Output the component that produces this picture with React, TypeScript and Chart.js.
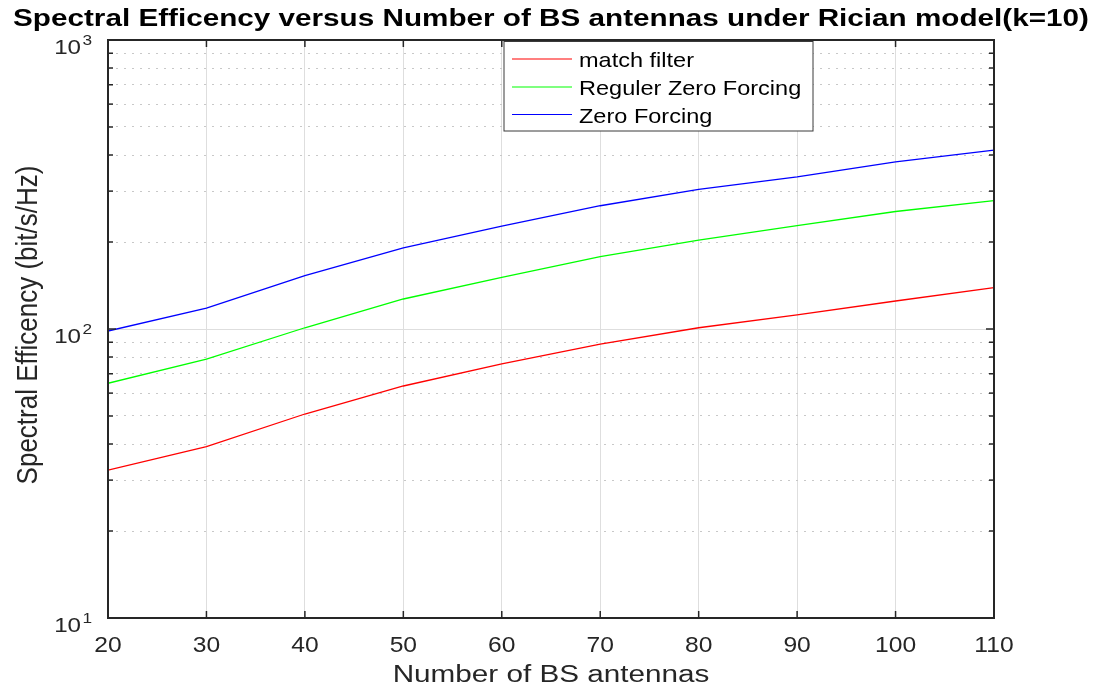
import React, { useEffect, useRef } from "react";
import Chart from "chart.js/auto";

// ---- data ----
const ANTENNAS = [20, 30, 40, 50, 60, 70, 80, 90, 100, 110];
const MATCH_FILTER = [32.5, 39.2, 50.8, 63.5, 75.7, 88.7, 101, 112, 125, 139];
const REGULER_ZF = [64.9, 78.7, 101, 127, 151, 178, 203, 228, 255, 278];
const ZERO_FORCING = [98.4, 118, 153, 191, 227, 267, 304, 336, 379, 416];

const SERIES_LABELS = ["match filter", "Reguler Zero Forcing", "Zero Forcing"];
const SERIES_COLORS = ["#ff0000", "#00ff00", "#0000ff"];

const X_TICKS = [20, 30, 40, 50, 60, 70, 80, 90, 100, 110];
const Y_GRID = [10, 20, 30, 40, 50, 60, 70, 80, 90, 100, 200, 300, 400, 500, 600, 700, 800, 900, 1000];
const Y_DECADES = [10, 100, 1000];
const Y_EXPONENTS = ["1", "2", "3"];

const TITLE = "Spectral Efficency versus Number of BS antennas under Rician model(k=10)";
const X_LABEL = "Number of BS antennas";
const Y_LABEL = "Spectral Efficency (bit/s/Hz)";

const FONT = '"Liberation Sans", Arial, sans-serif';
const INK = "#262626";

function drawText(
  ctx: CanvasRenderingContext2D,
  s: string,
  x: number,
  y: number,
  font: string,
  sx: number,
  align: CanvasTextAlign,
  color: string
) {
  ctx.save();
  ctx.translate(x, y);
  ctx.scale(sx, 1);
  ctx.font = font;
  ctx.textAlign = align;
  ctx.textBaseline = "alphabetic";
  ctx.fillStyle = color;
  ctx.fillText(s, 0, 0);
  ctx.restore();
}

const isDecade = (v: number) => Y_DECADES.indexOf(v) >= 0;

const framePlugin = {
  id: "matlabFrame",
  afterDraw(chart: any) {
    const { ctx, chartArea: a, scales } = chart;
    const xs = scales.x;
    const ys = scales.y;
    ctx.save();
    const seg = (x1: number, y1: number, x2: number, y2: number) => {
      ctx.beginPath();
      ctx.moveTo(x1, y1);
      ctx.lineTo(x2, y2);
      ctx.stroke();
    };
    // inward tick marks
    ctx.strokeStyle = INK;
    ctx.lineWidth = 1.5;
    X_TICKS.forEach((v) => {
      const px = xs.getPixelForValue(v);
      seg(px, a.bottom, px, a.bottom - 7);
      seg(px, a.top, px, a.top + 7);
    });
    Y_GRID.forEach((v) => {
      const py = ys.getPixelForValue(v);
      const len = isDecade(v) ? 8 : 5;
      seg(a.left, py, a.left + len, py);
      seg(a.right, py, a.right - len, py);
    });
    // box
    ctx.lineWidth = 2;
    ctx.strokeRect(a.left, a.top, a.right - a.left, a.bottom - a.top);

    // tick labels
    X_TICKS.forEach((v) => {
      const px = xs.getPixelForValue(v);
      drawText(ctx, String(v), px, 652, `22px ${FONT}`, 1.12, "center", INK);
    });
    Y_DECADES.forEach((v, i) => {
      const py = ys.getPixelForValue(v);
      drawText(ctx, "10", 81, py + 14, `21px ${FONT}`, 1.15, "right", INK);
      drawText(ctx, Y_EXPONENTS[i], 82.5, py + 4.5, `15px ${FONT}`, 1.15, "left", INK);
    });

    // axis titles
    drawText(ctx, X_LABEL, (a.left + a.right) / 2, 682, `23px ${FONT}`, 1.29, "center", INK);
    ctx.save();
    ctx.translate(36.5, (a.top + a.bottom) / 2 - 4);
    ctx.rotate(-Math.PI / 2);
    ctx.scale(1, 1.12);
    ctx.font = `26px ${FONT}`;
    ctx.textAlign = "center";
    ctx.textBaseline = "alphabetic";
    ctx.fillStyle = INK;
    ctx.fillText(Y_LABEL, 0, 0);
    ctx.restore();

    // title
    drawText(ctx, TITLE, 551, 26, `bold 23px ${FONT}`, 1.29, "center", "#000000");

    // legend
    const lx = 504, ly = 41.5, lw = 309, lh = 89.5;
    ctx.fillStyle = "#ffffff";
    ctx.fillRect(lx, ly, lw, lh);
    ctx.strokeStyle = "#3a3a3a";
    ctx.lineWidth = 1;
    ctx.strokeRect(lx, ly, lw, lh);
    const rows = [59, 87, 114.5];
    chart.data.datasets.forEach((ds: any, i: number) => {
      const ry = rows[i];
      ctx.strokeStyle = ds.borderColor;
      ctx.lineWidth = 1.2;
      seg(512, ry, 572, ry);
      drawText(ctx, ds.label, 579, ry + 8, `21px ${FONT}`, 1.12, "left", "#000000");
    });
    ctx.restore();
  },
};

export default function App() {
  const ref = useRef<HTMLCanvasElement | null>(null);

  useEffect(() => {
    if (!ref.current) return;
    const series = [MATCH_FILTER, REGULER_ZF, ZERO_FORCING];
    const chart = new Chart(ref.current, {
      type: "line",
      data: {
        datasets: series.map((vals, i) => ({
          label: SERIES_LABELS[i],
          data: ANTENNAS.map((x, j) => ({ x, y: vals[j] })),
          borderColor: SERIES_COLORS[i],
          backgroundColor: SERIES_COLORS[i],
          borderWidth: 1.3,
          pointRadius: 0,
          tension: 0,
          fill: false,
        })),
      },
      options: {
        responsive: false,
        devicePixelRatio: 1,
        animation: false,
        events: [],
        layout: { padding: { left: 108, right: 108, top: 40, bottom: 73 } },
        plugins: {
          legend: { display: false },
          title: { display: false },
          tooltip: { enabled: false },
        },
        scales: {
          x: {
            type: "linear",
            min: 20,
            max: 110,
            ticks: { display: false, stepSize: 10 },
            grid: { color: "#dedede", lineWidth: 1, drawTicks: false },
            border: { display: false },
            afterFit: (s: any) => {
              s.height = 0;
            },
          },
          y: {
            type: "logarithmic",
            min: 10,
            max: 1000,
            ticks: { display: false },
            afterBuildTicks: (s: any) => {
              s.ticks = Y_GRID.map((v) => ({ value: v }));
            },
            grid: {
              drawTicks: false,
              lineWidth: 1,
              color: (c: any) => (isDecade(c.tick?.value) ? "#dedede" : "#c8c8c8"),
            },
            border: {
              display: false,
              dash: (c: any) => (isDecade(c.tick?.value) ? [] : [2, 6]),
            },
            afterFit: (s: any) => {
              s.width = 0;
            },
          },
        },
      } as any,
      plugins: [framePlugin],
    });
    return () => chart.destroy();
  }, []);

  return (
    <div style={{ position: "absolute", left: 0, top: 0, width: 1102, height: 691, background: "#ffffff" }}>
      <canvas ref={ref} width={1102} height={691} style={{ display: "block", width: 1102, height: 691 }} />
    </div>
  );
}
